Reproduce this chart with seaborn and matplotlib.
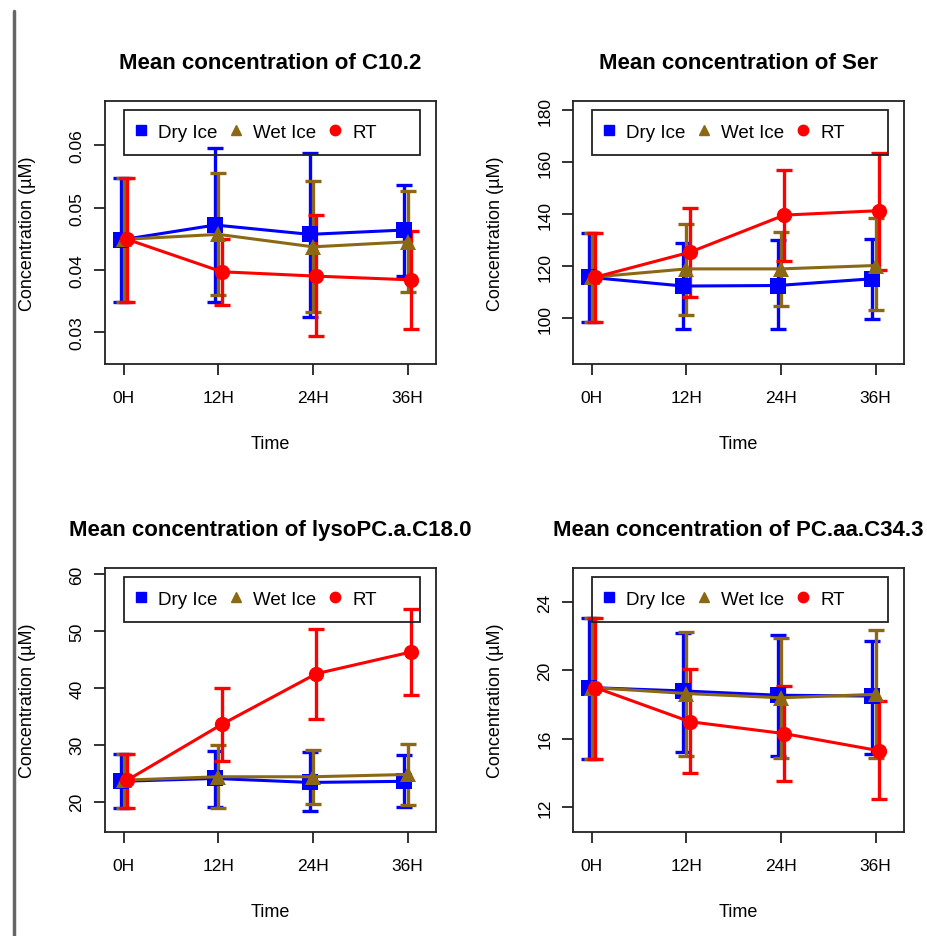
import numpy as np
import pandas as pd
import matplotlib
matplotlib.use("Agg")
import matplotlib.pyplot as plt
from matplotlib.lines import Line2D
from matplotlib.patches import Rectangle
import seaborn as sns

# ---------------- data ----------------
times = ["0H", "12H", "24H", "36H"]
groups = ["Dry Ice", "Wet Ice", "RT"]
colors = ["#0000FF", "#8B6914", "#FF0000"]
markers = ["s", "^", "o"]

titles = ["Mean concentration of C10.2", "Mean concentration of Ser",
          "Mean concentration of lysoPC.a.C18.0", "Mean concentration of PC.aa.C34.3"]

c102_mean = [[0.0448, 0.0472, 0.0457, 0.0464],
             [0.0449, 0.0457, 0.0437, 0.0445],
             [0.0449, 0.0397, 0.0390, 0.0384]]
c102_hi = [[0.0547, 0.0596, 0.0588, 0.0536],
           [0.0547, 0.0555, 0.0543, 0.0527],
           [0.0547, 0.0449, 0.0488, 0.0462]]
c102_lo = [[0.0349, 0.0348, 0.0325, 0.0390],
           [0.0349, 0.0360, 0.0333, 0.0365],
           [0.0349, 0.0344, 0.0294, 0.0305]]

ser_mean = [[115.7, 112.3, 112.5, 115.1],
            [115.7, 118.9, 118.9, 120.2],
            [115.7, 125.3, 139.6, 141.3]]
ser_hi = [[132.7, 128.8, 130.1, 130.4],
          [132.7, 136.2, 133.2, 138.3],
          [132.7, 142.3, 156.9, 163.6]]
ser_lo = [[98.5, 95.9, 95.9, 99.7],
          [98.5, 101.3, 104.6, 102.9],
          [98.5, 108.0, 122.1, 118.5]]

lyso_mean = [[23.6, 24.1, 23.4, 23.6],
             [23.8, 24.4, 24.4, 24.8],
             [23.8, 33.6, 42.5, 46.3]]
lyso_hi = [[28.4, 28.9, 28.8, 28.2],
           [28.4, 29.9, 29.1, 30.2],
           [28.4, 39.9, 50.4, 53.9]]
lyso_lo = [[19.0, 19.1, 18.4, 19.1],
           [19.0, 19.0, 19.6, 19.4],
           [19.0, 27.2, 34.5, 38.7]]

pc_mean = [[19.0, 18.8, 18.55, 18.5],
           [19.0, 18.65, 18.4, 18.6],
           [19.0, 17.0, 16.3, 15.3]]
pc_hi = [[23.1, 22.2, 22.05, 21.7],
         [23.1, 22.25, 21.9, 22.35],
         [23.1, 20.1, 19.1, 18.2]]
pc_lo = [[14.8, 15.2, 14.98, 15.1],
         [14.8, 15.0, 14.9, 14.9],
         [14.8, 14.0, 13.5, 12.5]]

yticks_list = [[0.03, 0.04, 0.05, 0.06], [100, 120, 140, 160, 180],
               [20, 30, 40, 50, 60], [12, 16, 20, 24]]
ylims = [(0.0249, 0.0671), (82.3, 183.5), (14.7, 61.05), (10.54, 26.0)]

panels = [(c102_mean, c102_lo, c102_hi), (ser_mean, ser_lo, ser_hi),
          (lyso_mean, lyso_lo, lyso_hi), (pc_mean, pc_lo, pc_hi)]

offsets = [-0.035, 0.0, 0.035]

# ---------------- style ----------------
sns.set_style("white")
plt.rcParams['font.family'] = ['Liberation Sans', 'DejaVu Sans']
plt.rcParams['axes.edgecolor'] = '#222222'
plt.rcParams['axes.linewidth'] = 1.3
plt.rcParams['text.color'] = 'black'
plt.rcParams['axes.labelcolor'] = 'black'
plt.rcParams['xtick.color'] = 'black'
plt.rcParams['ytick.color'] = 'black'

W, H = 927, 937
fig = plt.figure(figsize=(W / 100, H / 100), dpi=100)

# axes boxes in pixels (left, top, right, bottom)
boxes = [(105, 102, 436, 365), (573, 102, 904, 365),
         (105, 569, 436, 833), (573, 569, 904, 833)]

for i, (box, (means, los, his)) in enumerate(zip(boxes, panels)):
    l, t, r, b = box
    ax = fig.add_axes([l / W, 1 - b / H, (r - l) / W, (b - t) / H])
    rows = []
    for g, name in enumerate(groups):
        for k, tm in enumerate(times):
            rows.append(dict(group=name, x=k + offsets[g], mean=means[g][k],
                             lo=los[g][k], hi=his[g][k]))
    df = pd.DataFrame(rows)
    sns.lineplot(data=df, x="x", y="mean", hue="group", style="group",
                 palette=dict(zip(groups, colors)),
                 markers=dict(zip(groups, markers)), dashes=False,
                 markersize=11, linewidth=2.2, markeredgewidth=0,
                 legend=False, ax=ax, zorder=3)
    for g, name in enumerate(groups):
        sub = df[df.group == name]
        ax.errorbar(sub.x, sub["mean"],
                    yerr=[sub["mean"] - sub.lo, sub.hi - sub["mean"]],
                    fmt="none", ecolor=colors[g], elinewidth=2.4,
                    capsize=5.5, capthick=2.4, zorder=2 + g * 0.1)
    ax.set_xlim(-0.2, 3.3)
    ax.set_ylim(*ylims[i])
    ax.set_xticks(range(len(times)))
    ax.set_xticklabels(times)
    ax.set_yticks(yticks_list[i])
    ax.set_yticklabels([("%g" % v) for v in yticks_list[i]], rotation=90, va="center")
    ax.tick_params(axis="x", length=8, width=1.3, color="#222222", labelsize=12.5, pad=10.5)
    ax.tick_params(axis="y", length=8, width=1.3, color="#222222", labelsize=12.5, pad=7)
    ax.tick_params(left=True, bottom=True)
    ax.set_xlabel("Time", fontsize=13, labelpad=22)
    ax.set_ylabel("Concentration (\u00b5M)", fontsize=13, labelpad=24)
    ax.set_title(titles[i], fontsize=16, fontweight="bold", pad=24)

    # legend frame and entries
    ax.add_patch(Rectangle((0.0574, 0.795), 0.9517 - 0.0574, 0.966 - 0.795,
                           transform=ax.transAxes, fill=False, edgecolor="#222222",
                           linewidth=1.3, zorder=5))
    handles = [Line2D([], [], linestyle="none", marker=m, color=c, markersize=7.5)
               for m, c in zip(markers, colors)]
    ax.legend(handles, groups, loc="center left", bbox_to_anchor=(0.0816, 0.882),
              ncol=3, frameon=False, fontsize=13.5, handlelength=1.0,
              handletextpad=0.4, columnspacing=0.5, borderpad=0, borderaxespad=0)

fig.add_artist(Line2D([13.5 / W, 13.5 / W], [0, 1 - 12 / H], transform=fig.transFigure,
                      color="#666666", linewidth=2.5))

fig.savefig("out.png", dpi=100, facecolor="white")
